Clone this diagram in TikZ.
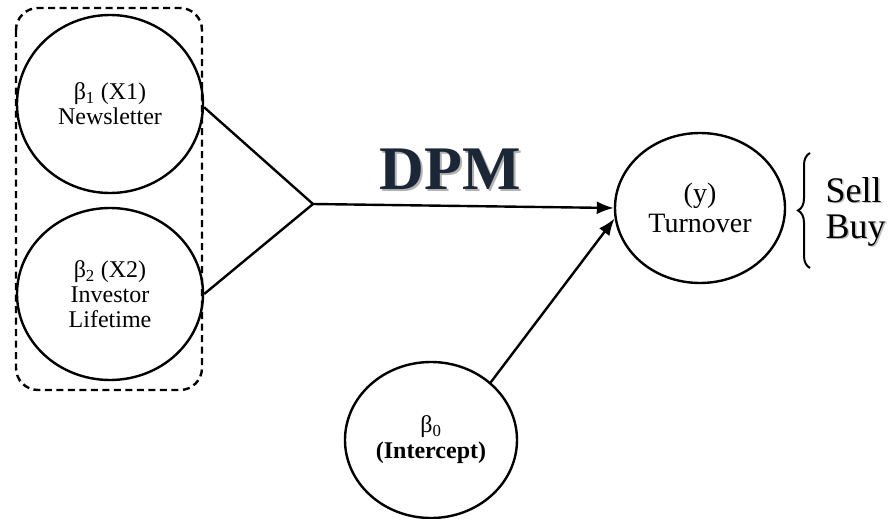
\documentclass[tikz,border=0pt]{standalone}
\usepackage{fontspec}
\setmainfont{Liberation Serif}
\usetikzlibrary{shapes.geometric,arrows.meta,decorations.pathreplacing}
\tikzset{
  blob/.style={ellipse, draw, line width=2.4pt, align=center, inner sep=0pt},
  conn/.style={line width=2.4pt},
  arr/.style={line width=2.4pt, -{Latex[length=17pt,width=13pt]}},
  grp/.style={draw, dash pattern=on 7pt off 4.5pt, line width=2.4pt, rounded corners=22pt},
}
\definecolor{navy}{HTML}{1B2636}
\begin{document}
\begin{tikzpicture}[x=1pt,y=-1pt]
\useasboundingbox (0,0) rectangle (889,519);
\draw[grp] (16,8) rectangle (202,390);
\node[blob, minimum width=186pt, minimum height=178pt, font=\fontsize{24}{25}\selectfont] (c1) at (110,104) {β\textsubscript{1} (X1)\\Newsletter};
\node[blob, minimum width=186pt, minimum height=172pt, font=\fontsize{24}{25}\selectfont] (c2) at (110,294) {β\textsubscript{2} (X2)\\Investor\\Lifetime};
\node[blob, minimum width=170pt, minimum height=150pt, font=\fontsize{28}{30}\selectfont] (ty) at (700,208) {(y)\\Turnover};
\node[blob, minimum width=172pt, minimum height=156pt, font=\fontsize{24}{26}\selectfont] (b0) at (431,440) {β\textsubscript{0}\\\textbf{(Intercept)}};
\coordinate (j) at (313,204);
\draw[conn] (c1.358) -- (j);
\draw[conn] (c2.east) -- (j);
\draw[arr] (j) -- (ty.west);
\draw[arr] (b0.44) -- (ty.187);
\node[font=\fontsize{62}{62}\selectfont\bfseries, text=gray!60] (dpms) at (452,171) {DPM};
\node[font=\fontsize{62}{62}\selectfont\bfseries, text=navy] (dpm) at (450,169) {DPM};
\draw[line width=2pt, decorate, decoration={brace, amplitude=12pt}] (810,268) -- (810,153);
\node[anchor=base west, font=\fontsize{36}{36}\selectfont, text=gray!50] (sells) at (823.5,203.5) {Sell};
\node[anchor=base west, font=\fontsize{36}{36}\selectfont] (sell) at (822,202) {Sell};
\node[anchor=base west, font=\fontsize{36}{36}\selectfont, text=gray!50] (buys) at (823.5,239.5) {Buy};
\node[anchor=base west, font=\fontsize{36}{36}\selectfont] (buy) at (822,238) {Buy};
\end{tikzpicture}
\end{document}
